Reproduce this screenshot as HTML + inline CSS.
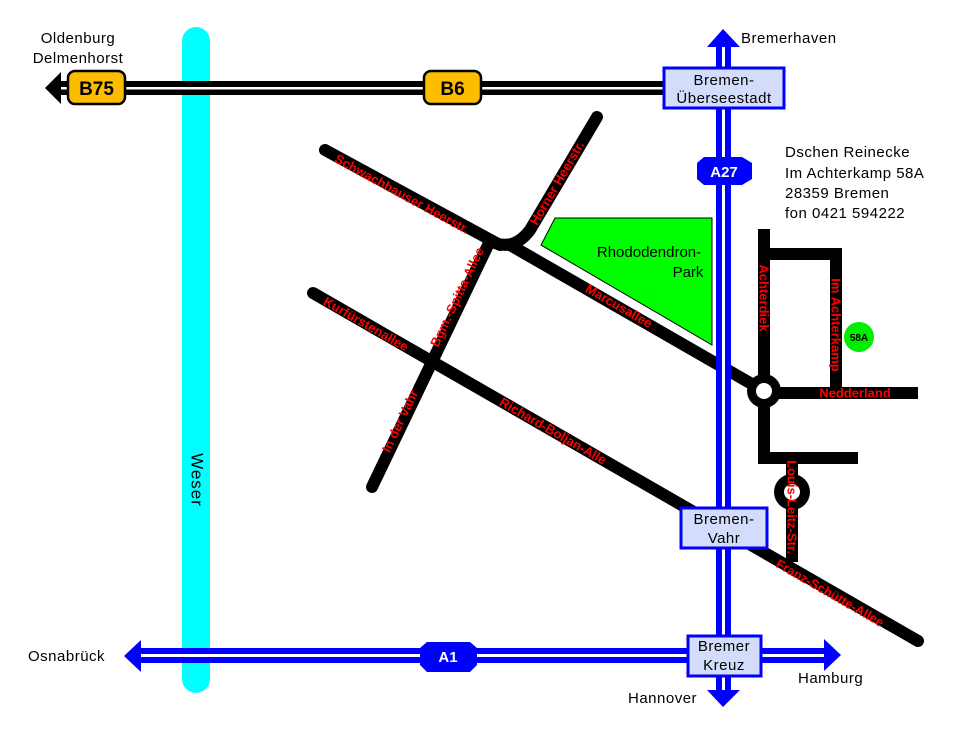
<!DOCTYPE html>
<html><head><meta charset="utf-8"><style>
html,body{margin:0;padding:0;background:#fff;}
svg{display:block;}
.l{font-family:"Liberation Sans",sans-serif;font-size:15px;fill:#000;letter-spacing:0.5px;}
.s{font-family:"Liberation Sans",sans-serif;font-size:13px;font-weight:bold;fill:#f00;}
.bx{font-family:"Liberation Sans",sans-serif;font-size:15px;fill:#000;letter-spacing:0.5px;}
</style></head><body>
<svg width="957" height="731" viewBox="0 0 957 731" xmlns="http://www.w3.org/2000/svg">
<rect x="182" y="27" width="28" height="666" rx="14" fill="#00ffff"/>
<text x="196" y="480" transform="rotate(90 196 480)" text-anchor="middle" dominant-baseline="middle" font-family="Liberation Sans,sans-serif" font-size="17" fill="#000" letter-spacing="1">Weser</text>

<rect x="58" y="81" width="606" height="14" fill="#000"/>
<rect x="58" y="87" width="606" height="2.5" fill="#fff"/>
<polygon points="45,88 61,72 61,104" fill="#000"/>
<rect x="68" y="71" width="57" height="33" rx="7" fill="#fcbc00" stroke="#000" stroke-width="2.5"/>
<text x="96.5" y="95" text-anchor="middle" font-family="Liberation Sans,sans-serif" font-size="19" font-weight="bold">B75</text>
<rect x="424" y="71" width="57" height="33" rx="7" fill="#fcbc00" stroke="#000" stroke-width="2.5"/>
<text x="452.5" y="95" text-anchor="middle" font-family="Liberation Sans,sans-serif" font-size="19" font-weight="bold">B6</text>
<text class="l" x="78" y="43" text-anchor="middle">Oldenburg</text>
<text class="l" x="78" y="63" text-anchor="middle">Delmenhorst</text>

<polygon points="555,218 712,218 712,345 541,245" fill="#00ff00" stroke="#000" stroke-width="1"/>
<text x="649" y="257" text-anchor="middle" font-family="Liberation Sans,sans-serif" font-size="15">Rhododendron-</text>
<text x="688" y="277" text-anchor="middle" font-family="Liberation Sans,sans-serif" font-size="15">Park</text>

<g stroke="#000" stroke-width="12" stroke-linecap="round" fill="none">
<line x1="325" y1="150" x2="500" y2="245"/>
<line x1="510" y1="245" x2="764" y2="391"/>
<path d="M597,117 L530,230 Q515,250 495,243"/>
<line x1="489" y1="243" x2="372" y2="487"/>
<line x1="313" y1="293" x2="918" y2="641"/>
<polyline points="764,229 764,458 858,458" stroke-linecap="butt"/>
<polyline points="764,254 836,254 836,393" stroke-linecap="butt"/>
<line x1="764" y1="393" x2="918" y2="393" stroke-linecap="butt"/>
<line x1="792" y1="458" x2="792" y2="562" stroke-linecap="butt"/>
</g>
<circle cx="764" cy="391" r="17" fill="#000"/>
<circle cx="764" cy="391" r="8" fill="#fff"/>
<circle cx="792" cy="492" r="18" fill="#000"/>
<circle cx="792" cy="492" r="8" fill="#fff"/>
<circle cx="859" cy="337" r="15" fill="#00ee00"/>
<text x="859" y="341" text-anchor="middle" font-family="Liberation Sans,sans-serif" font-size="10" font-weight="bold">58A</text>

<g class="s" text-anchor="middle" dominant-baseline="central">
<text transform="translate(402,194) rotate(28.7)">Schwachhauser Heerstr.</text>
<text transform="translate(557,183) rotate(-59.8)">Horner Heerstr.</text>
<text transform="translate(619,306) rotate(29.8)">Marcusallee</text>
<text transform="translate(366,324) rotate(29.9)">Kurfürstenallee</text>
<text transform="translate(457,297) rotate(-64.6)">Bgm.-Spitta-Allee</text>
<text transform="translate(400,421) rotate(-64.6)">In der Vahr</text>
<text transform="translate(553,431) rotate(29.9)">Richard-Boljan-Alle</text>
<text transform="translate(830,593) rotate(29.9)">Franz-Schütte-Allee</text>
<text transform="translate(764,298) rotate(90)">Achterdiek</text>
<text transform="translate(836,325) rotate(90)">Im Achterkamp</text>
<text transform="translate(855,393)">Nedderland</text>
<text transform="translate(792,507) rotate(90)">Louis-Leitz-Str.</text>
</g>

<rect x="716" y="44" width="15" height="648" fill="#0000ff"/>
<rect x="722" y="44" width="3" height="648" fill="#fff"/>
<polygon points="723,29 707,47 740,47" fill="#0000ff"/>
<polygon points="723,707 707,690 740,690" fill="#0000ff"/>
<rect x="138" y="648" width="690" height="15" fill="#0000ff"/>
<rect x="138" y="654" width="690" height="3" fill="#fff"/>
<polygon points="124,656 141,640 141,672" fill="#0000ff"/>
<polygon points="841,655 824,639 824,671" fill="#0000ff"/>

<polygon points="704,157 742,157 752,163 752,179 742,185 704,185 697,179 697,163" fill="#0000ff"/>
<text x="724" y="177" text-anchor="middle" font-family="Liberation Sans,sans-serif" font-size="15" font-weight="bold" fill="#fff">A27</text>
<polygon points="427,642 470,642 477,648 477,665 470,672 427,672 420,665 420,648" fill="#0000ff"/>
<text x="448" y="662" text-anchor="middle" font-family="Liberation Sans,sans-serif" font-size="15" font-weight="bold" fill="#fff">A1</text>

<rect x="664" y="68" width="120" height="40" fill="#d4dcfc" stroke="#0000ff" stroke-width="3"/>
<text class="bx" x="724" y="85" text-anchor="middle">Bremen-</text>
<text class="bx" x="724" y="103" text-anchor="middle">Überseestadt</text>
<rect x="681" y="508" width="86" height="40" fill="#d4dcfc" stroke="#0000ff" stroke-width="3"/>
<text class="bx" x="724" y="524" text-anchor="middle">Bremen-</text>
<text class="bx" x="724" y="543" text-anchor="middle">Vahr</text>
<rect x="688" y="636" width="73" height="40" fill="#d4dcfc" stroke="#0000ff" stroke-width="3"/>
<text class="bx" x="724" y="651" text-anchor="middle">Bremer</text>
<text class="bx" x="724" y="670" text-anchor="middle">Kreuz</text>

<text class="l" x="741" y="43">Bremerhaven</text>
<text class="l" x="28" y="661">Osnabrück</text>
<text class="l" x="798" y="683">Hamburg</text>
<text class="l" x="628" y="703">Hannover</text>
<text class="l" x="785" y="157">Dschen Reinecke</text>
<text class="l" x="785" y="178">Im Achterkamp 58A</text>
<text class="l" x="785" y="198">28359 Bremen</text>
<text class="l" x="785" y="218">fon 0421 594222</text>
</svg>
</body></html>
